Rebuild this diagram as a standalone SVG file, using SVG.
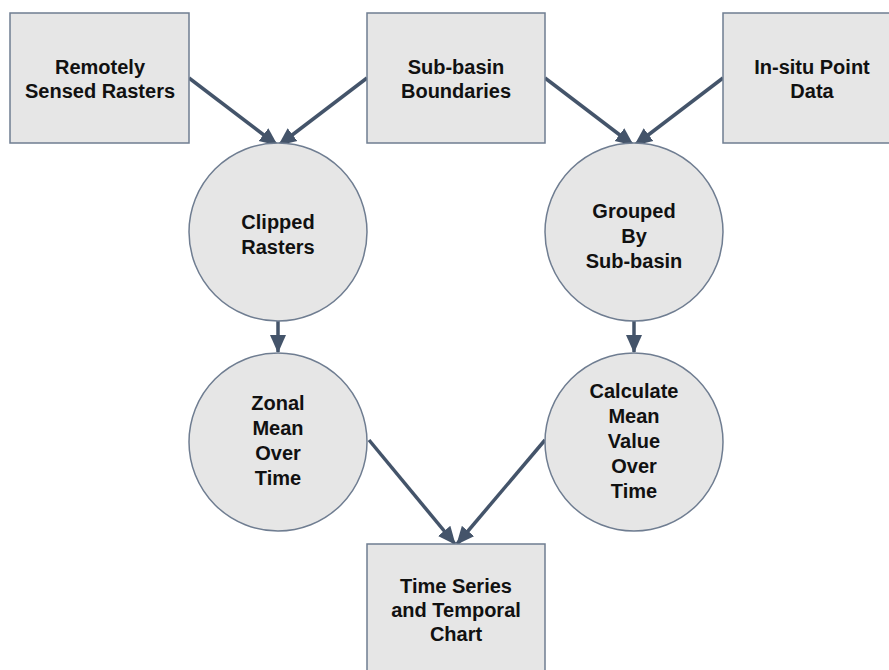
<svg xmlns="http://www.w3.org/2000/svg" width="889" height="670" viewBox="0 0 889 670">
<defs>
<style>
.box{fill:#e6e6e6;stroke:#6f7d91;stroke-width:1.5}
.t{font-family:"Liberation Sans",Arial,sans-serif;font-weight:bold;font-size:20px;fill:#111;text-anchor:middle}
.c{stroke:#44546a;stroke-width:3.5;fill:none;marker-end:url(#ah)}
</style>
<marker id="ah" markerUnits="userSpaceOnUse" markerWidth="18" markerHeight="18" viewBox="0 0 18 18" refX="17" refY="9" orient="auto">
<path d="M0,1 L18,9 L0,17 Z" fill="#44546a"/>
</marker>
</defs>
<rect width="889" height="670" fill="#fff"/>
<g id="connectors">
<line class="c" x1="189" y1="78" x2="277" y2="145"/>
<line class="c" x1="367" y1="78" x2="279" y2="145"/>
<line class="c" x1="545" y1="78" x2="633" y2="145"/>
<line class="c" x1="723" y1="78" x2="635" y2="145"/>
<line class="c" x1="278" y1="321" x2="278" y2="352"/>
<line class="c" x1="634" y1="321" x2="634" y2="352"/>
<line class="c" x1="369" y1="440" x2="455" y2="544"/>
<line class="c" x1="545" y1="440" x2="457" y2="544"/>
</g>
<g id="n1"><rect class="box" x="10" y="13" width="179" height="130"/>
<text class="t" x="100" y="74">Remotely</text><text class="t" x="100" y="98">Sensed Rasters</text></g>
<g id="n2"><rect class="box" x="367" y="13" width="178" height="130"/>
<text class="t" x="456" y="74">Sub-basin</text><text class="t" x="456" y="98">Boundaries</text></g>
<g id="n3"><rect class="box" x="723" y="13" width="178" height="130"/>
<text class="t" x="812" y="74">In-situ Point</text><text class="t" x="812" y="98">Data</text></g>
<g id="n4"><circle class="box" cx="278" cy="232" r="89"/>
<text class="t" x="278" y="229">Clipped</text><text class="t" x="278" y="254">Rasters</text></g>
<g id="n5"><circle class="box" cx="634" cy="232" r="89"/>
<text class="t" x="634" y="218">Grouped</text><text class="t" x="634" y="243">By</text><text class="t" x="634" y="268">Sub-basin</text></g>
<g id="n6"><circle class="box" cx="278" cy="442" r="89"/>
<text class="t" x="278" y="410">Zonal</text><text class="t" x="278" y="435">Mean</text><text class="t" x="278" y="460">Over</text><text class="t" x="278" y="485">Time</text></g>
<g id="n7"><circle class="box" cx="634" cy="442" r="89"/>
<text class="t" x="634" y="398">Calculate</text><text class="t" x="634" y="423">Mean</text><text class="t" x="634" y="448">Value</text><text class="t" x="634" y="473">Over</text><text class="t" x="634" y="498">Time</text></g>
<g id="n8"><rect class="box" x="367" y="544" width="178" height="140"/>
<text class="t" x="456" y="593">Time Series</text><text class="t" x="456" y="617">and Temporal</text><text class="t" x="456" y="641">Chart</text></g>
</svg>
